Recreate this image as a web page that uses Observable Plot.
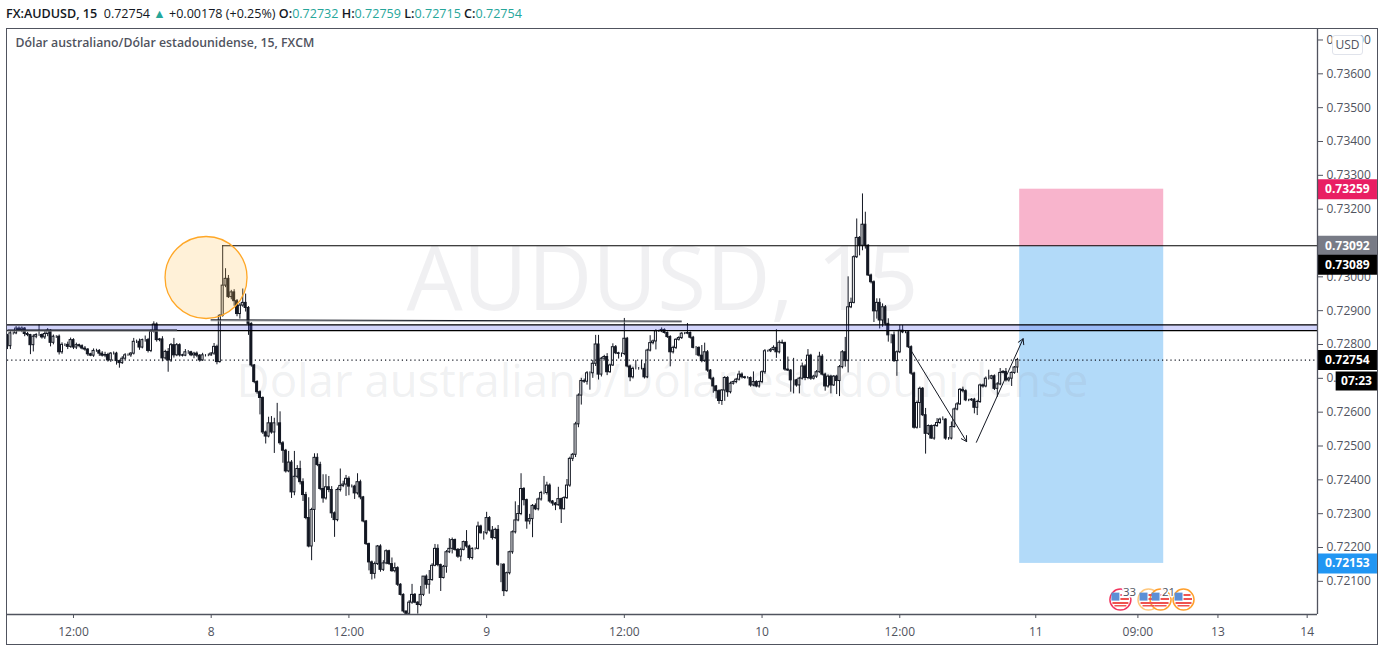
<!DOCTYPE html>
<html>
<head>
<meta charset="utf-8">
<script src="https://cdn.jsdelivr.net/npm/d3@7"></script>
<script src="https://cdn.jsdelivr.net/npm/@observablehq/plot@0.6"></script>
<style>
html,body{margin:0;padding:0;background:#fff;width:1384px;height:654px;overflow:hidden;font-family:"Open Sans",sans-serif}
#chart{position:absolute;left:0;top:0}
#chart svg{background:transparent;display:block}
#frame{position:absolute;left:6px;top:28px;width:1370px;height:615px;border:1px solid #50535e;pointer-events:none}
#head{position:absolute;left:6px;top:5px;font-size:12.55px;line-height:17px;color:#131722;white-space:pre}
#head b{font-weight:600}
#head i{font-style:normal;color:#26a69a}
#usd{position:absolute;left:1332px;top:35px;width:29px;height:18px;border:1px solid #e0e3eb;border-radius:3px;background:#fff;color:#50535e;font-size:12px;line-height:18px;text-align:center}
</style>
</head>
<body>
<div id="chart"></div>
<div id="frame"></div>
<div id="head"></div>
<div id="usd">USD</div>
<script>
// closing price of every 15-minute bar, in 1e-5 units
const closes = [
72795,72833,72833,72847,72843,72847,72831,72828,72798,72823,
72828,72828,72821,72831,72841,72805,72823,72823,72777,72799,
72799,72793,72813,72791,72798,72795,72788,72785,72771,72767,
72781,72781,72773,72767,72769,72753,72773,72773,72751,72745,
72758,72768,72768,72773,72808,72808,72791,72813,72813,72781,
72838,72859,72813,72815,72759,72778,72753,72798,72768,72798,
72768,72767,72777,72777,72768,72773,72767,72753,72768,72768,
72768,72773,72793,72748,72885,72974,72994,72940,72954,72928,
72890,72915,72923,72908,72861,72738,72689,72659,72642,72540,
72528,72567,72540,72567,72567,72508,72486,72425,72451,72363,
72409,72432,72393,72355,72287,72203,72311,72465,72444,72373,
72345,72378,72370,72301,72281,72370,72382,72386,72403,72380,
72380,72360,72393,72348,72277,72210,72156,72122,72151,72203,
72134,72153,72189,72151,72130,72139,72090,72060,72011,72004,
72037,72060,72037,72030,72060,72114,72090,72104,72146,72196,
72148,72110,72143,72186,72196,72222,72193,72173,72193,72216,
72203,72169,72196,72196,72262,72242,72242,72287,72250,72228,
72252,72149,72149,72071,72124,72186,72245,72280,72299,72373,
72340,72277,72284,72323,72313,72342,72361,72361,72383,72336,
72330,72325,72343,72313,72346,72383,72462,72474,72564,72649,
72692,72690,72715,72715,72743,72800,72711,72758,72763,72718,
72738,72792,72774,72772,72772,72817,72735,72703,72728,72728,
72728,72728,72703,72782,72804,72809,72839,72839,72843,72834,
72822,72777,72790,72814,72819,72832,72832,72834,72820,72790,
72790,72767,72751,72777,72723,72699,72676,72662,72633,72664,
72701,72659,72684,72689,72696,72711,72703,72701,72701,72679,
72689,72676,72689,72718,72780,72780,72784,72790,72777,72805,
72804,72726,72723,72694,72694,72679,72699,72735,72701,72767,
72699,72705,72718,72764,72711,72676,72705,72679,72705,72692,
72733,72777,72751,72910,72923,73058,73115,73092,73154,73092,
73004,72984,72898,72923,72871,72910,72861,72827,72827,72751,
72777,72841,72836,72836,72792,72714,72554,72627,72669,72591,
72536,72559,72522,72559,72568,72578,72578,72522,72522,72556,
72608,72623,72666,72662,72635,72635,72637,72613,72630,72679,
72676,72699,72699,72706,72669,72682,72716,72719,72694,72699,
72716,72732,72754];
// wick length above the body of each bar, 1e-5 units
const upperWick = [
5,8,4,6,5,5,3,5,2,6, 4,30,3,8,6,3,5,3,5,6,
3,8,6,4,6,3,4,6,3,3, 6,5,4,6,8,5,3,5,4,3,
6,5,4,3,10,5,8,3,12,5, 5,8,5,3,8,5,10,5,20,5,
4,3,8,5,3,4,5,3,6,2, 4,3,10,5,3,118,30,10,6,8,
5,6,41,26,4,3,3,4,4,3, 4,18,20,15,59,34,5,4,33,6,
75,10,23,10,8,60,5,12,12,8, 42,37,32,10,4,6,50,10,10,6,
5,4,25,6,3,3,3,4,6,3, 5,8,4,3,18,15,4,3,3,0,
6,31,4,3,25,0,5,28,6,13, 12,3,4,5,30,6,3,4,5,3,
34,4,3,3,13,4,5,17,4,12, 5,13,3,3,3,3,4,55,25,45,
4,3,14,4,6,4,5,49,10,5, 3,3,35,3,4,18,5,4,6,5,
8,6,5,4,10,27,27,4,5,10, 4,10,5,3,3,60,4,4,5,25,
4,25,15,4,22,4,5,3,6,3, 3,4,5,3,4,3,3,28,3,4,
4,3,30,27,5,3,4,3,4,3, 4,4,5,3,4,10,5,3,4,3,
30,4,3,4,5,3,4,6,54,6, 8,3,37,3,65,3,4,10,5,18,
4,4,5,13,6,4,5,4,3,4, 5,5,44,90,14,4,56,4,91,37,
3,4,4,12,12,10,5,15,3,10, 4,15,15,4,4,4,4,6,5,4,
20,3,3,4,13,4,8,3,3,15, 4,5,4,8,4,3,3,4,5,4,
4,5,25,3,4,5,13,4,10,4, 3,3,5];
// wick length below the body of each bar, 1e-5 units
const lowerWick = [
10,10,5,4,5,8,8,5,28,20, 6,4,5,6,8,12,6,5,8,6,
5,8,4,6,6,5,4,5,6,3, 5,4,8,4,6,5,6,4,12,15,
4,5,3,6,4,5,8,4,6,6, 5,4,6,5,10,5,35,6,8,4,
5,4,3,6,4,10,6,5,3,5, 4,3,5,8,3,4,6,4,8,15,
8,15,5,12,34,5,5,6,50,6, 22,4,5,62,8,6,37,5,4,18,
10,6,8,19,5,4,42,96,5,5, 14,5,8,15,51,5,6,5,35,27,
4,18,5,7,4,4,25,18,15,4, 7,5,4,4,3,5,5,3,5,8,
0,5,3,27,5,5,13,28,4,3, 5,40,3,19,4,15,4,5,15,3,
5,6,6,4,3,2,20,5,4,6, 4,5,53,16,3,5,6,5,4,5,
17,23,10,55,4,5,5,5,6,5, 8,16,3,42,2,4,5,8,8,10,
28,5,10,50,15,8,16,7,5,10, 3,3,4,15,10,5,4,13,5,3,
4,3,5,4,4,5,25,3,4,3, 4,43,5,5,4,4,3,3,4,3,
23,4,5,4,5,4,20,23,10,13, 32,15,5,4,5,4,5,4,3,5,
4,4,5,5,6,3,4,3,18,5, 4,5,3,35,40,5,25,4,8,5,
5,4,5,3,4,14,5,25,3,40, 46,5,18,35,4,3,4,30,15,10,
3,5,33,23,25,20,6,20,25,4, 45,4,4,4,4,5,4,4,75,4,
60,5,2,5,4,4,3,5,5,4, 3,4,3,5,4,4,3,18,23,4,
5,4,4,3,5,25,4,3,5,5, 23,4,17];
const firstOpen = 72825;

const xTickBars = [23, 71, 119, 167, 215, 263, 311, 358.4, 394, 421.9, 453];
const xTickLabels = ["12:00","8","12:00","9","12:00","10","12:00","11","09:00","13","14"];
const yTicks = [0.721,0.722,0.723,0.724,0.725,0.726,0.727,0.728,0.729,0.730,0.731,0.732,0.733,0.734,0.735,0.736,0.737];

const bandTop = 0.72858, bandBottom = 0.72841;
const resistance = 0.73092, lastPrice = 0.72754;
const stopPrice = 0.73259, entryPrice = 0.73089, targetPrice = 0.72153;
const positionBars = [352.8, 403];
const trendLines = [
  {x1: 0, x2: 59.1, y1: 0.72843, y2: 0.72843},
  {x1: 70.8, x2: 235, y1: 0.72873, y2: 0.72869}
];
const highLine = {x1: 75, x2: 456.6, y: resistance};
const arrows = [
  {x1: 315.1, y1: 0.7278, x2: 334.3, y2: 0.72513},
  {x1: 337.7, y1: 0.72511, x2: 354, y2: 0.72817}
];
const priceBadges = [
  {y: stopPrice, text: "0.73259", fill: "#e91e63"},
  {y: resistance, text: "0.73092", fill: "#787b86"},
  {y: lastPrice, text: "0.72754", fill: "#000000"},
  {y: targetPrice, text: "0.72153", fill: "#2196f3"}
];
const shiftedBadge = {y: entryPrice, text: "0.73089", fill: "#000000"};
const flags = [
  {x: 387.9, ring: "#f2365f"},
  {x: 397.7, ring: "#ffc87e"},
  {x: 401.9, ring: "#ff9f2c"},
  {x: 409.9, ring: "#ff9f2c"}
];
const flagCounts = [{x: 391.1, text: "33"}, {x: 404.7, text: "21"}];
const flagLevel = 0.72046;
const highlight = {x: 69.2, y: 0.72998};

const bars = closes.map((c, i) => {
  const o = i ? closes[i - 1] : firstOpen;
  return {
    i,
    open: o / 1e5,
    close: c / 1e5,
    high: (Math.max(o, c) + upperWick[i]) / 1e5,
    low: (Math.min(o, c) - lowerWick[i]) / 1e5
  };
});

const canton = {draw(c){c.moveTo(-9,-7);c.lineTo(-1,-7);c.lineTo(-1,1);c.lineTo(-9,1);c.closePath();}};
const stripes = {draw(c){
  for (const [a,b,w] of [[-5.5,-3.5,7],[-1.5,0.5,8.5],[2.5,4.5,8],[5.5,7,6]]) {
    const l = a > 1 ? -w : 0;
    c.moveTo(l,a);c.lineTo(w,a);c.lineTo(w,b);c.lineTo(l,b);c.closePath();
  }
}};

const xRight = 477.5, xAxisStart = 456.6, xLabel = 467;
const watermark = "#9598a1";
const chart = Plot.plot({
  width: 1384, height: 654,
  marginLeft: 7, marginRight: 67, marginTop: 29, marginBottom: 40,
  style: {fontFamily: '"Open Sans", sans-serif', fontSize: "12px", background: "transparent"},
  x: {domain: [0, 456.6], axis: null},
  y: {domain: [0.72002, 0.73731], axis: null},
  marks: [
    Plot.rect([0], {x1: positionBars[0], x2: positionBars[1], y1: stopPrice, y2: entryPrice, fill: "#f8b4cc"}),
    Plot.rect([0], {x1: positionBars[0], x2: positionBars[1], y1: entryPrice, y2: targetPrice, fill: "#b2daf9"}),
    Plot.text(["AUDUSD, 15"], {frameAnchor: "middle", dy: -40, fontSize: 89, fill: watermark, fillOpacity: 0.14}),
    Plot.text(["Dólar australiano/Dólar estadounidense"], {frameAnchor: "middle", dy: 60, fontSize: 45.6, fill: watermark, fillOpacity: 0.14}),
    Plot.ruleX(bars, {x: "i", y1: "low", y2: "high", stroke: "#131722", strokeWidth: 1, clip: "frame"}),
    Plot.rect(bars, {
      x1: d => d.i - 0.35, x2: d => d.i + 0.35,
      y1: "open", y2: "close",
      fill: d => d.close < d.open ? "#131722" : "#ffffff",
      stroke: "#131722", strokeWidth: 1, clip: "frame"
    }),
    Plot.rect([0], {x1: 0, x2: 456.6, y1: bandBottom, y2: bandTop, fill: "#5a60f0", fillOpacity: 0.27}),
    Plot.ruleY([bandTop, bandBottom], {stroke: "#000", strokeWidth: 1.2}),
    Plot.ruleY([lastPrice], {stroke: "#131722", strokeWidth: 1.2, strokeDasharray: "1.2 3"}),
    Plot.ruleY([highLine], {y: "y", x1: "x1", x2: "x2", stroke: "#000", strokeWidth: 1.1}),
    Plot.link(trendLines, {x1: "x1", x2: "x2", y1: "y1", y2: "y2", stroke: "#a8a9ad", strokeWidth: 1, dy: 1}),
    Plot.link(trendLines, {x1: "x1", x2: "x2", y1: "y1", y2: "y2", stroke: "#131722", strokeWidth: 1}),
    Plot.dot([highlight], {x: "x", y: "y", r: 41, fill: "#ffc04d", fillOpacity: 0.22, stroke: "#ffa726", strokeWidth: 1.3}),
    Plot.arrow(arrows, {x1: "x1", y1: "y1", x2: "x2", y2: "y2", stroke: "#131722", strokeWidth: 1, headLength: 9, bend: false}),
    Plot.dot(flags, {x: "x", y: flagLevel, r: 10.5, fill: "#fff", stroke: "ring", strokeWidth: 1.5}),
    Plot.dot(flags, {x: "x", y: flagLevel, r: 8, symbol: stripes, fill: "#ef5350", stroke: "none"}),
    Plot.dot(flags, {x: "x", y: flagLevel, r: 8, symbol: canton, fill: "#5c8fd6", stroke: "none"}),
    Plot.text(flagCounts, {x: "x", y: flagLevel, text: "text", dy: -7, fill: "#50535e", fontSize: 11.5, stroke: "#fff", strokeWidth: 3, paintOrder: "stroke"}),
    Plot.axisX({anchor: "bottom", ticks: xTickBars, tickFormat: (d, i) => xTickLabels[i], tickSize: 4, tickPadding: 9, color: "#50535e", fontSize: 12, label: null}),
    Plot.axisY({anchor: "right", ticks: yTicks, tickFormat: d => d.toFixed(5), tickSize: 5, tickPadding: 4, color: "#50535e", fontSize: 12, label: null}),
    Plot.ruleY(priceBadges, {y: "y", x1: xAxisStart, x2: xRight, stroke: "fill", strokeWidth: 20}),
    Plot.text(priceBadges, {y: "y", x: xLabel, text: "text", fill: "#fff", fontWeight: 700, fontSize: 12}),
    Plot.ruleY([shiftedBadge], {y: "y", x1: xAxisStart, x2: xRight, stroke: "fill", strokeWidth: 20, dy: 18}),
    Plot.text([shiftedBadge], {y: "y", x: xLabel, text: "text", fill: "#fff", fontWeight: 700, fontSize: 12, dy: 18}),
    Plot.ruleY([lastPrice], {x1: 463.1, x2: xRight, stroke: "#000", strokeWidth: 19, dy: 21}),
    Plot.text(["07:23"], {y: lastPrice, x: 470.2, fill: "#fff", fontWeight: 700, fontSize: 12, dy: 21}),
    Plot.text(["Dólar australiano/Dólar estadounidense, 15, FXCM"], {frameAnchor: "top-left", dx: 8, dy: 9, fill: "#50535e", fontWeight: 600, fontSize: 12.3}),
    Plot.ruleY([0.72002], {stroke: "#50535e", strokeWidth: 1.3}),
    Plot.ruleX([456.6], {stroke: "#50535e", strokeWidth: 1.3, y1: 0.72002, y2: 0.73731})
  ]
});
document.getElementById("chart").append(chart);
const ohlc = [["O:", "0.72732"], ["H:", "0.72759"], ["L:", "0.72715"], ["C:", "0.72754"]];
document.getElementById("head").innerHTML =
  "<b>FX:AUDUSD, 15</b>  0.72754 <i>▲</i> +0.00178 (+0.25%) " +
  ohlc.map(([k, v]) => `<b>${k}</b><i>${v}</i>`).join(" ");
</script>
</body>
</html>
